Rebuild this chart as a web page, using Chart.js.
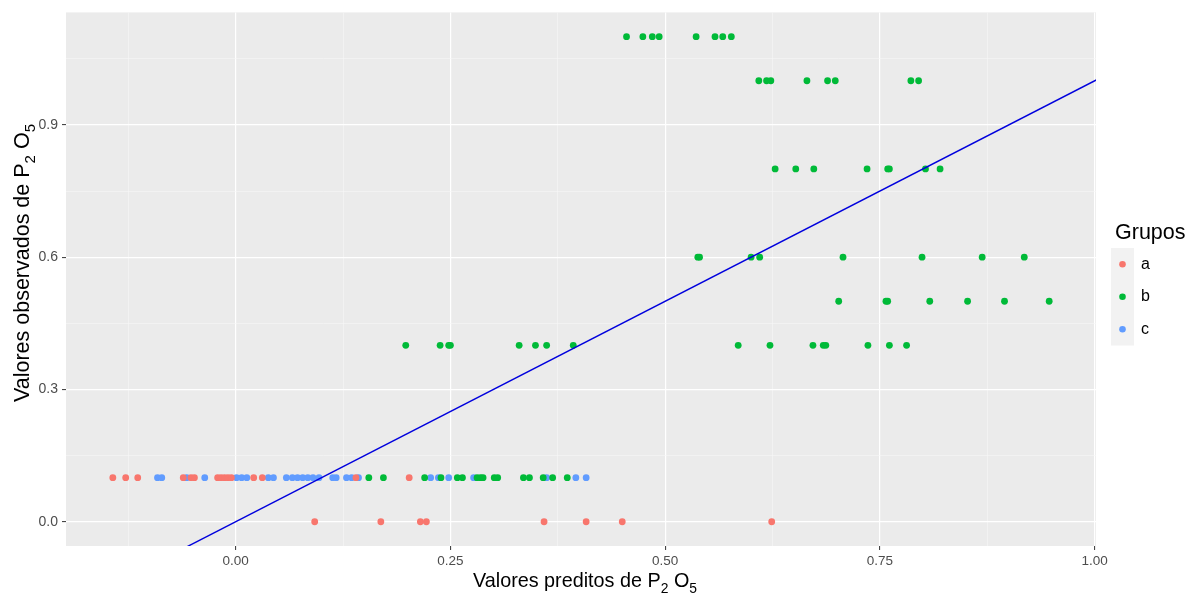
<!DOCTYPE html>
<html>
<head>
<meta charset="utf-8">
<script src="https://cdn.jsdelivr.net/npm/chart.js@4.4.1/dist/chart.umd.min.js"></script>
<style>
  html, body { margin: 0; padding: 0; background: #ffffff; }
  #wrap { width: 1190px; height: 594px; position: relative; }
</style>
</head>
<body>
<div id="wrap"><canvas id="c"></canvas></div>
<script>
// Grupo a: valores preditos (x) e observados (y)
const predA = [-0.143, -0.128, -0.114, -0.061, -0.052, -0.048, -0.021, -0.017, -0.013, -0.009, -0.005,
               0.021, 0.031, 0.140, 0.202,
               0.092, 0.169, 0.215, 0.222, 0.359, 0.408, 0.450, 0.624];
const obsA  = [0.1, 0.1, 0.1, 0.1, 0.1, 0.1, 0.1, 0.1, 0.1, 0.1, 0.1,
               0.1, 0.1, 0.1, 0.1,
               0.0, 0.0, 0.0, 0.0, 0.0, 0.0, 0.0, 0.0];

// Grupo b
const predB = [0.155, 0.172, 0.220, 0.239, 0.258, 0.264, 0.281, 0.285, 0.288, 0.301, 0.305, 0.335, 0.342, 0.358, 0.369, 0.386,
               0.198, 0.238, 0.248, 0.250, 0.330, 0.349, 0.362, 0.393, 0.585, 0.622, 0.672, 0.684, 0.687, 0.736, 0.761, 0.781,
               0.702, 0.757, 0.759, 0.808, 0.852, 0.895, 0.947,
               0.538, 0.540, 0.600, 0.610, 0.707, 0.799, 0.869, 0.918,
               0.628, 0.652, 0.673, 0.735, 0.759, 0.761, 0.803, 0.820,
               0.609, 0.618, 0.623, 0.665, 0.689, 0.698, 0.786, 0.795,
               0.455, 0.474, 0.485, 0.493, 0.536, 0.558, 0.567, 0.577];
const obsB  = [0.1, 0.1, 0.1, 0.1, 0.1, 0.1, 0.1, 0.1, 0.1, 0.1, 0.1, 0.1, 0.1, 0.1, 0.1, 0.1,
               0.4, 0.4, 0.4, 0.4, 0.4, 0.4, 0.4, 0.4, 0.4, 0.4, 0.4, 0.4, 0.4, 0.4, 0.4, 0.4,
               0.5, 0.5, 0.5, 0.5, 0.5, 0.5, 0.5,
               0.6, 0.6, 0.6, 0.6, 0.6, 0.6, 0.6, 0.6,
               0.8, 0.8, 0.8, 0.8, 0.8, 0.8, 0.8, 0.8,
               1.0, 1.0, 1.0, 1.0, 1.0, 1.0, 1.0, 1.0,
               1.1, 1.1, 1.1, 1.1, 1.1, 1.1, 1.1, 1.1];

// Grupo c
const predC = [-0.091, -0.086, -0.057, -0.036, 0.001, 0.007, 0.013, 0.038, 0.044, 0.059, 0.066, 0.072, 0.078,
               0.084, 0.090, 0.097, 0.113, 0.117, 0.129, 0.135, 0.143, 0.227, 0.236, 0.248, 0.277, 0.362, 0.396, 0.408];
const obsC  = [0.1, 0.1, 0.1, 0.1, 0.1, 0.1, 0.1, 0.1, 0.1, 0.1, 0.1, 0.1, 0.1,
               0.1, 0.1, 0.1, 0.1, 0.1, 0.1, 0.1, 0.1, 0.1, 0.1, 0.1, 0.1, 0.1, 0.1, 0.1];

// Linha de referência y = x
const refLine = [-0.2, 1.2];

const groupNames = ['a', 'b', 'c'];
const groupColors = ['#F8766D', '#00BA38', '#619CFF'];

const xMajor = [0, 0.25, 0.5, 0.75, 1.0];
const xMinor = [-0.125, 0.125, 0.375, 0.625, 0.875];
const yMajor = [0, 0.3, 0.6, 0.9];
const yMinor = [0.15, 0.45, 0.75, 1.05];

const FONT = "'Liberation Sans', Arial, sans-serif";

function pairs(xs, ys) { return xs.map((v, i) => ({ x: v, y: ys[i] })); }
function isIn(v, arr) { return arr.some(a => Math.abs(a - v) < 1e-9); }

// Text with subscript pieces, centred on cx
function richWidth(ctx, parts, size) {
  let w = 0;
  parts.forEach(p => {
    ctx.font = (p.sub ? size * 0.7 : size) + 'px ' + FONT;
    w += ctx.measureText(p.t).width;
  });
  return w;
}
function drawRich(ctx, parts, cx, baseY, size) {
  const w = richWidth(ctx, parts, size);
  let x = cx - w / 2;
  parts.forEach(p => {
    const s = p.sub ? size * 0.7 : size;
    ctx.font = s + 'px ' + FONT;
    ctx.fillText(p.t, x, baseY + (p.sub ? size * 0.28 : 0));
    x += ctx.measureText(p.t).width;
  });
}

const decor = {
  id: 'decor',
  beforeDraw(chart) {
    const { ctx, chartArea: a } = chart;
    ctx.save();
    ctx.fillStyle = '#FFFFFF';
    ctx.fillRect(0, 0, chart.width, chart.height);
    ctx.fillStyle = '#EBEBEB';
    ctx.fillRect(a.left, a.top, a.right - a.left, a.bottom - a.top);
    ctx.restore();
  },
  afterDraw(chart) {
    const { ctx, chartArea: a } = chart;
    ctx.save();
    ctx.fillStyle = '#000000';
    ctx.textAlign = 'left';
    ctx.textBaseline = 'alphabetic';

    // axis titles
    const xt = [{ t: 'Valores preditos de P' }, { t: '2', sub: true }, { t: ' O' }, { t: '5', sub: true }];
    drawRich(ctx, xt, 585, 587, 19.8);

    const yt = [{ t: 'Valores observados de P' }, { t: '2', sub: true }, { t: ' O' }, { t: '5', sub: true }];
    ctx.save();
    ctx.translate(29, 263);
    ctx.rotate(-Math.PI / 2);
    drawRich(ctx, yt, 0, 0, 21.5);
    ctx.restore();

    // legend
    ctx.font = '21.5px ' + FONT;
    ctx.fillText('Grupos', 1115, 239);
    const keyTop = 248, keyH = 32.5, keyX = 1111, keyW = 23;
    ctx.fillStyle = '#F2F2F2';
    ctx.fillRect(keyX, keyTop, keyW, keyH * groupNames.length);
    groupNames.forEach((g, i) => {
      const cy = keyTop + keyH * (i + 0.5);
      ctx.fillStyle = groupColors[i];
      ctx.beginPath();
      ctx.arc(keyX + keyW / 2, cy, 3.3, 0, Math.PI * 2);
      ctx.fill();
      ctx.fillStyle = '#000000';
      ctx.font = '16px ' + FONT;
      ctx.textBaseline = 'middle';
      ctx.fillText(g, 1141, cy);
      ctx.textBaseline = 'alphabetic';
    });
    ctx.restore();
  }
};

const pointDs = (i, xs, ys) => ({
  type: 'scatter',
  label: groupNames[i],
  data: pairs(xs, ys),
  backgroundColor: groupColors[i],
  borderWidth: 0,
  pointRadius: 3.4,
  pointHoverRadius: 3.4,
  order: 2
});

new Chart(document.getElementById('c'), {
  type: 'scatter',
  data: {
    datasets: [
      pointDs(0, predA, obsA),
      pointDs(1, predB, obsB),
      pointDs(2, predC, obsC),
      {
        type: 'line',
        label: 'y = x',
        data: pairs(refLine, refLine),
        borderColor: '#0000DD',
        borderWidth: 1.4,
        pointRadius: 0,
        fill: false,
        order: 1
      }
    ]
  },
  options: {
    responsive: true,
    maintainAspectRatio: false,
    animation: false,
    events: [],
    layout: { padding: { top: 11, right: 94, left: 0, bottom: 0 } },
    plugins: { legend: { display: false }, tooltip: { enabled: false } },
    scales: {
      x: {
        type: 'linear',
        min: -0.1975,
        max: 1.0015,
        afterBuildTicks(s) { s.ticks = xMinor.concat(xMajor).sort((p, q) => p - q).map(v => ({ value: v })); },
        afterFit(s) { s.height = 48; },
        border: { display: false },
        grid: {
          color: c => isIn(c.tick.value, xMajor) ? '#FFFFFF' : '#F7F7F7',
          lineWidth: c => isIn(c.tick.value, xMajor) ? 1.2 : 0.6,
          drawTicks: true,
          tickLength: 4,
          tickColor: c => isIn(c.tick.value, xMajor) ? '#333333' : 'rgba(0,0,0,0)',
          tickWidth: 1
        },
        ticks: {
          autoSkip: false,
          maxRotation: 0,
          padding: 3,
          color: '#4D4D4D',
          font: { family: FONT, size: 13.5 },
          callback: v => isIn(v, xMajor) ? v.toFixed(2) : ''
        }
      },
      y: {
        type: 'linear',
        min: -0.055,
        max: 1.155,
        afterBuildTicks(s) { s.ticks = yMinor.concat(yMajor).sort((p, q) => p - q).map(v => ({ value: v })); },
        afterFit(s) { s.width = 66; },
        border: { display: false },
        grid: {
          color: c => isIn(c.tick.value, yMajor) ? '#FFFFFF' : '#F7F7F7',
          lineWidth: c => isIn(c.tick.value, yMajor) ? 1.2 : 0.6,
          drawTicks: true,
          tickLength: 4,
          tickColor: c => isIn(c.tick.value, yMajor) ? '#333333' : 'rgba(0,0,0,0)',
          tickWidth: 1
        },
        ticks: {
          autoSkip: false,
          padding: 4,
          color: '#4D4D4D',
          font: { family: FONT, size: 14 },
          callback: v => isIn(v, yMajor) ? v.toFixed(1) : ''
        }
      }
    }
  },
  plugins: [decor]
});
</script>
</body>
</html>
